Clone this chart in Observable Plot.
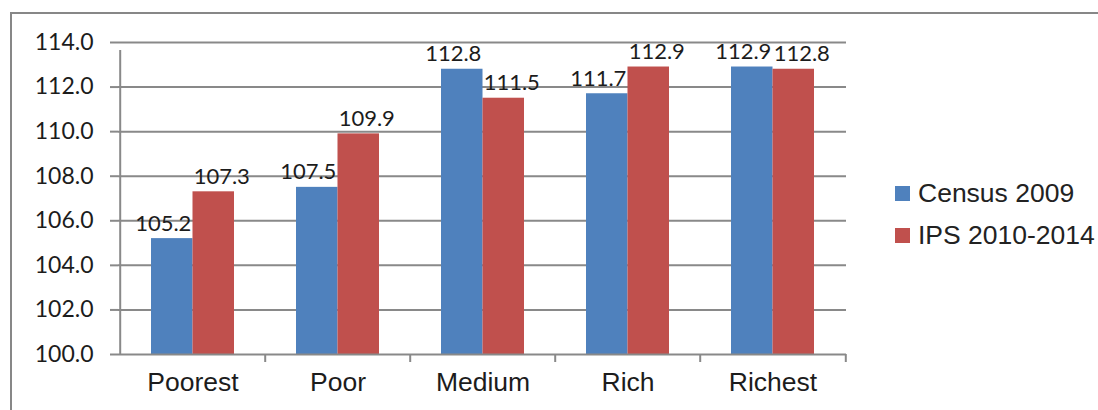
<!DOCTYPE html>
<html>
<head>
<meta charset="utf-8">
<script src="https://cdn.jsdelivr.net/npm/d3@7"></script>
<script src="https://cdn.jsdelivr.net/npm/@observablehq/plot@0.6"></script>
<style>
  html, body { margin: 0; padding: 0; background: #fff; }
  #wrap { position: relative; width: 1098px; height: 410px; overflow: hidden; }
  #frame { position: absolute; left: 10px; top: 12px; width: 1200px; height: 500px;
           border-top: 2px solid #878787; border-left: 2px solid #878787; box-sizing: border-box; }
  #chart { position: absolute; left: 0; top: 0; }
  .legend { position: absolute; left: 895px; font-family: "Liberation Sans", Arial, sans-serif;
            font-size: 26.5px; color: #222; }
  .legend .row { position: absolute; left: 0; display: flex; align-items: center; white-space: nowrap; }
  .legend .sw { width: 15px; height: 15px; margin-right: 8px; flex: none; }
</style>
</head>
<body>
<div id="wrap">
  <div id="frame"></div>
  <div id="chart"></div>
  <div class="legend" id="legend"></div>
</div>
<script>
// Wealth quintiles and the two sources compared
const categories = ["Poorest", "Poor", "Medium", "Rich", "Richest"];
const seriesNames = ["Census 2009", "IPS 2010-2014"];
const census2009 = [105.2, 107.5, 112.8, 111.7, 112.9];
const ips20102014 = [107.3, 109.9, 111.5, 112.9, 112.8];
const yTicks = [100, 102, 104, 106, 108, 110, 112, 114];
const colors = ["#4F81BD", "#C0504D"];

const W = 1098, H = 410;
const mL = 118, mR = 252, mT = 42, mB = 56;
const padInner = 0.43, padOuter = 0.215;
const step = (W - mL - mR) / categories.length;
const bw = step * (1 - padInner);
const grey = "#898989";

const rows = [
  ...categories.map((c, i) => ({cat: c, series: seriesNames[0], value: census2009[i]})),
  ...categories.map((c, i) => ({cat: c, series: seriesNames[1], value: ips20102014[i]}))
];
const blue = rows.filter(d => d.series === seriesNames[0]);
const red = rows.filter(d => d.series === seriesNames[1]);

const labelFont = "Lato, 'Open Sans', sans-serif";

const chart = Plot.plot({
  width: W,
  height: H,
  marginLeft: mL,
  marginRight: mR,
  marginTop: mT,
  marginBottom: mB,
  style: {background: "transparent", overflow: "visible"},
  x: {type: "band", domain: categories, paddingInner: padInner, paddingOuter: padOuter},
  y: {domain: [100, 114]},
  marks: [
    Plot.gridY(yTicks.slice(1), {stroke: grey, strokeOpacity: 1, strokeWidth: 2}),
    Plot.barY(blue, {x: "cat", y1: 100, y2: "value", fill: colors[0], insetLeft: 0, insetRight: bw / 2}),
    Plot.barY(red, {x: "cat", y1: 100, y2: "value", fill: colors[1], insetLeft: bw / 2, insetRight: 0}),
    // value axis line and category boundary ticks
    Plot.ruleX([categories[0]], {x: d => d, y1: 100, y2: 114, dx: -step / 2, insetBottom: -8, stroke: grey, strokeWidth: 2}),
    Plot.ruleX(categories.slice(1), {x: d => d, y1: 100, y2: 100, dx: -step / 2, insetBottom: -8, stroke: grey, strokeWidth: 2}),
    Plot.ruleX([categories[categories.length - 1]], {x: d => d, y1: 100, y2: 100, dx: step / 2, insetBottom: -8, stroke: grey, strokeWidth: 2}),
    Plot.ruleY([100], {stroke: grey, strokeWidth: 2}),
    Plot.axisY({ticks: yTicks, tickFormat: d3.format(".1f"), tickSize: 8, tickPadding: 17,
      stroke: grey, strokeWidth: 2, fontSize: 23, fontFamily: labelFont, fill: "#1c1c1c", label: null}),
    Plot.axisX({tickSize: 0, tickPadding: 18, fontSize: 26.5, fontFamily: "'Liberation Sans', Arial, sans-serif",
      fill: "#1c1c1c", label: null}),
    Plot.text(blue, {x: "cat", y: "value", text: d => d.value.toFixed(1), dx: -bw / 4 - 9, dy: -8,
      lineAnchor: "bottom", fontSize: 22, fontFamily: labelFont, fill: "#1c1c1c"}),
    Plot.text(red, {x: "cat", y: "value", text: d => d.value.toFixed(1), dx: bw / 4 + 8, dy: -8,
      lineAnchor: "bottom", fontSize: 22, fontFamily: labelFont, fill: "#1c1c1c"})
  ]
});
document.getElementById("chart").appendChild(chart);

// Legend
const legend = document.getElementById("legend");
const rowTops = [177, 219];
seriesNames.forEach((name, i) => {
  const row = document.createElement("div");
  row.className = "row";
  row.style.top = rowTops[i] + "px";
  row.style.height = "32px";
  const sw = document.createElement("span");
  sw.className = "sw";
  sw.style.background = colors[i];
  const label = document.createElement("span");
  label.textContent = name;
  row.appendChild(sw);
  row.appendChild(label);
  legend.appendChild(row);
});
</script>
</body>
</html>
